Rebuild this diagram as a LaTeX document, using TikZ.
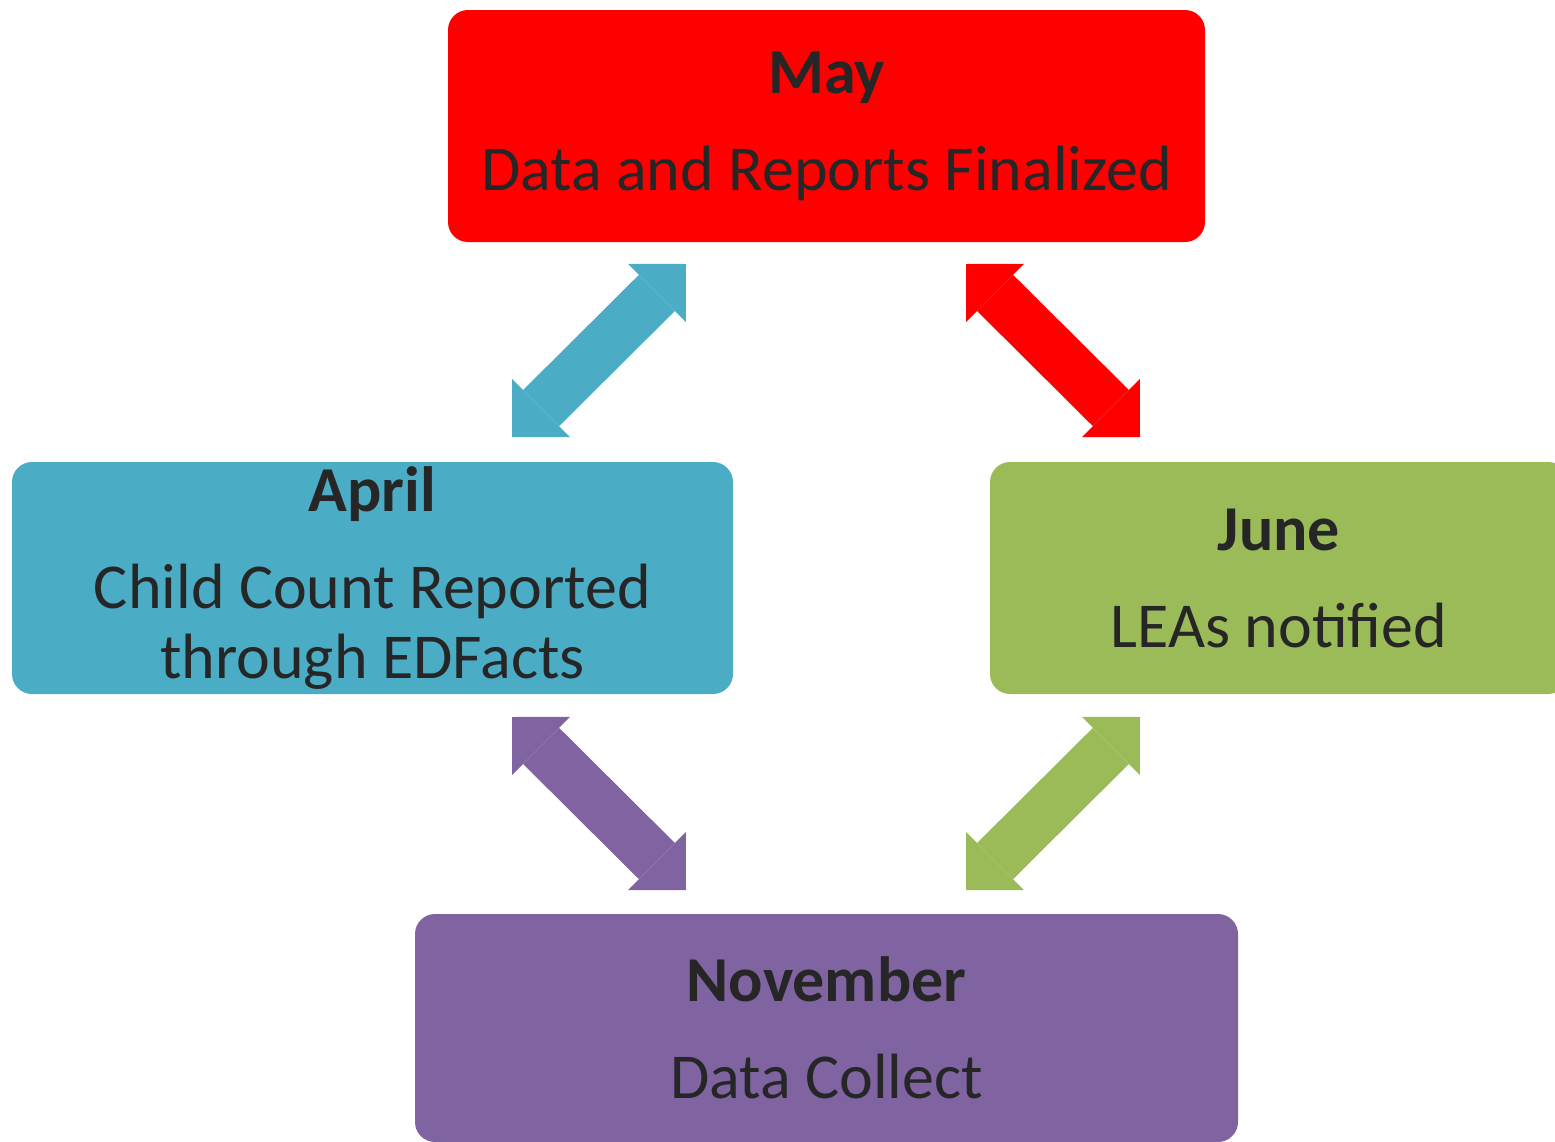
\documentclass[tikz,border=0pt]{standalone}
\usepackage{fontspec}
\setmainfont{Carlito}
\usetikzlibrary{arrows.meta}

\definecolor{mayred}{RGB}{255,0,0}
\definecolor{aprilblue}{RGB}{75,172,198}
\definecolor{junegreen}{RGB}{155,187,89}
\definecolor{novpurple}{RGB}{128,100,162}
\definecolor{txtgray}{RGB}{38,38,38}

\newcommand{\monthtitle}[1]{{\bfseries #1}\\[13.5pt]}

\begin{document}
\begin{tikzpicture}[x=0.5pt,y=-0.5pt,
  month box/.style={rectangle,rounded corners=10pt,minimum height=116pt,inner sep=0pt,
    align=center,text=txtgray,font=\fontsize{32}{35}\selectfont},
  cycle arrow/.style={line width=25.5pt,
    >={Triangle[length=20.5pt,width=41pt,line width=0pt]},<->}]

  \useasboundingbox (0,0) rectangle (1555,1142);

  % the four boxes
  \node[month box,fill=mayred,minimum width=378.5pt] (may) at (826.5,126)
    {\monthtitle{May}Data and Reports Finalized};
  \node[month box,fill=aprilblue,minimum width=360.5pt] (april) at (372.5,578)
    {\monthtitle{April}Child Count Reported\\through EDFacts};
  \node[month box,fill=junegreen,minimum width=289pt] (june) at (1279,578)
    {\monthtitle{June}LEAs notified};
  \node[month box,fill=novpurple,minimum width=411.5pt,minimum height=114pt] (november) at (826.5,1028)
    {\monthtitle{November}Data Collect};

  % arrow ends
  \coordinate (blue1) at (512,437);
  \coordinate (blue2) at (686,264);
  \coordinate (red1) at (966,264);
  \coordinate (red2) at (1140,437);
  \coordinate (purple1) at (512,717);
  \coordinate (purple2) at (686,890);
  \coordinate (green1) at (1140,717);
  \coordinate (green2) at (966,890);

  \draw[cycle arrow,aprilblue] (blue1) -- (blue2);
  \draw[cycle arrow,mayred] (red1) -- (red2);
  \draw[cycle arrow,novpurple] (purple1) -- (purple2);
  \draw[cycle arrow,junegreen] (green1) -- (green2);
\end{tikzpicture}
\end{document}
